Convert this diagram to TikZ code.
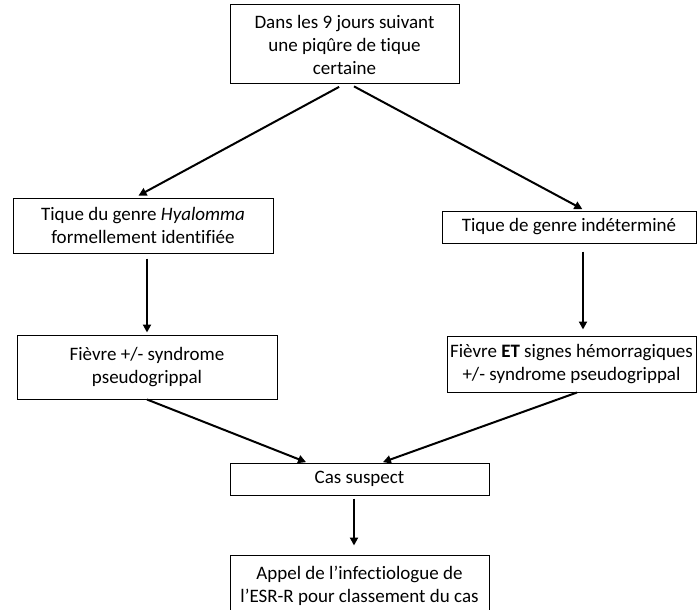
\documentclass[tikz,border=0pt]{standalone}
\usepackage{fontspec}
\setmainfont{Carlito}[Ligatures=NoCommon]
\usetikzlibrary{arrows.meta}
\begin{document}
\begin{tikzpicture}[x=1pt,y=-1pt,
  box/.style={draw=black,line width=1pt,rectangle,inner sep=0pt,align=center,
    font=\fontsize{19}{23}\selectfont},
  arr/.style={line width=2pt,-{Triangle[length=8pt,width=8pt]}}]
\clip (0,0) rectangle (697,610);
\fill[white] (0,0) rectangle (697,610);

% boxes
\node[box,minimum width=229pt,minimum height=79pt] (top) at (344.5,44.5)
  {Dans les 9 jours suivant\\une piqûre de tique\\certaine};
\node[box,minimum width=260pt,minimum height=55pt] (l1) at (143,225.5)
  {Tique du genre \textit{Hyalomma}\\formellement identifiée};
\node[box,minimum width=254pt,minimum height=32pt] (r1) at (569,227)
  {Tique de genre indéterminé};
\node[box,minimum width=260pt,minimum height=64pt] (l2) at (147,367)
  {Fièvre +/- syndrome\\pseudogrippal};
\node[box,minimum width=249pt,minimum height=56pt] (r2) at (571.5,364)
  {Fièvre \textbf{ET} signes hémorragiques\\+/- syndrome pseudogrippal};
\node[box,minimum width=259pt,minimum height=32pt] (cas) at (359.5,479)
  {Cas suspect};
\node[box,minimum width=259pt,minimum height=62pt] (esr) at (359.5,586)
  {Appel de l’infectiologue de\\l’ESR-R pour classement du cas};

% connectors
\draw[arr,shorten <=5pt,shorten >=4pt] ([xshift=-1pt]top.south) -- ([xshift=-8pt]l1.north);
\draw[arr,shorten <=4pt,shorten >=3pt] ([xshift=6pt]top.south) -- ([xshift=16pt]r1.north);
\draw[arr,shorten <=5pt,shorten >=2pt] ([xshift=4pt]l1.south) -- (l2.north);
\draw[arr,shorten <=8pt,shorten >=6pt] ([xshift=14pt]r1.south) -- ([xshift=11.5pt]r2.north);
\draw[arr,shorten >=1pt] (l2.south) -- ([xshift=-52.5pt]cas.north);
\draw[arr,shorten >=1pt] ([xshift=5.5pt]r2.south) -- ([xshift=22.5pt]cas.north);
\draw[arr,shorten <=3pt,shorten >=9pt] ([xshift=-5.5pt]cas.south) -- ([xshift=-5.5pt]esr.north);
\end{tikzpicture}
\end{document}
